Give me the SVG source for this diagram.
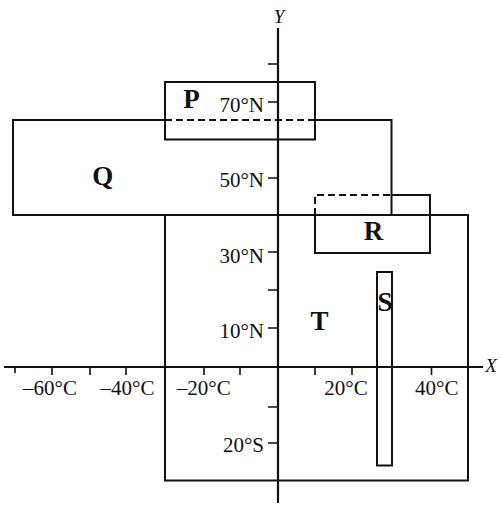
<svg xmlns="http://www.w3.org/2000/svg" width="501" height="507" viewBox="0 0 501 507">
<style>
.ln{fill:none;stroke:#111;stroke-width:2}
.ds{fill:none;stroke:#111;stroke-width:2;stroke-dasharray:7,4}
.ax{fill:none;stroke:#111;stroke-width:2.2}
.tk{fill:none;stroke:#111;stroke-width:1.6}
.lb{font-family:"Liberation Serif","Times New Roman",serif;font-size:21px;fill:#111}
.bl{font-family:"Liberation Serif","Times New Roman",serif;font-size:27px;font-weight:bold;fill:#111;text-anchor:middle}
.it{font-family:"Liberation Serif","Times New Roman",serif;font-size:19px;font-style:italic;fill:#111;text-anchor:middle}
</style>
<rect width="501" height="507" fill="#fff"/>
<g id="axes">
<path class="ax" d="M278,28 V503 M4,367 H483"/>
<path class="tk" d="M268,64 H278 M268,102 H278 M268,178 H278 M268,252 H278 M268,290 H278 M268,328 H278 M268,407 H278 M268,443 H278"/>
<path class="tk" d="M15,367 V373 M52,367 V375 M90,367 V375 M126,367 V375 M204,367 V375 M240,367 V375 M315,367 V375 M352,367 V375 M431.5,367 V375"/>
<text class="it" x="279" y="23">Y</text>
<text class="it" x="491" y="372">X</text>
<g class="lb" text-anchor="end">
<text x="264" y="111.5">70°N</text>
<text x="264" y="187">50°N</text>
<text x="264" y="263">30°N</text>
<text x="264" y="338">10°N</text>
<text x="264" y="451.5">20°S</text>
</g>
<g class="lb" text-anchor="middle">
<text x="50" y="395">–60°C</text>
<text x="127.5" y="395">–40°C</text>
<text x="203.7" y="395">–20°C</text>
<text x="346" y="395">20°C</text>
<text x="436.7" y="395">40°C</text>
</g>
</g>
<g id="connectors"></g>
<g id="Q">
<path class="ln" d="M165,120 H13 V215 H391.5 V120 H315"/>
<path class="ds" d="M165,120 H315"/>
<text class="bl" x="102.7" y="185">Q</text>
</g>
<g id="P">
<rect class="ln" x="165" y="82" width="150" height="57.5"/>
<text class="bl" x="191.5" y="108">P</text>
</g>
<g id="T">
<rect class="ln" x="165" y="215" width="303" height="265.5"/>
<text class="bl" x="319.5" y="330">T</text>
</g>
<g id="R">
<path class="ln" d="M391.5,195 H430 V253 H315 V215"/>
<path class="ds" d="M315,215 V195 H391.5"/>
<text class="bl" x="373.5" y="239.5">R</text>
</g>
<g id="S">
<rect class="ln" x="377" y="272" width="15" height="193.5"/>
<text class="bl" x="385" y="310.5">S</text>
</g>
</svg>
